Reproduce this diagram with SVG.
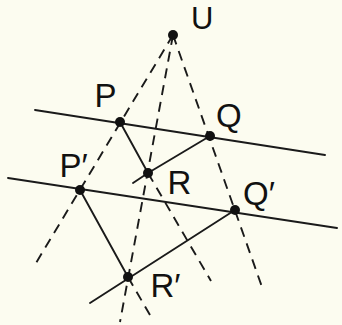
<svg xmlns="http://www.w3.org/2000/svg" width="342" height="325" viewBox="0 0 342 325">
<style>
.ln{stroke:#1a1a1a;stroke-width:1.9;fill:none;stroke-linecap:round}
.ds{stroke:#1a1a1a;stroke-width:1.9;fill:none;stroke-dasharray:10 7}
.dot{fill:#111}
.lb{font-family:"Liberation Sans","DejaVu Sans",Arial,sans-serif;font-size:33px;fill:#111}
</style>
<rect width="342" height="325" fill="#fcfcf0"/>
<g id="connectors">
<line class="ln" x1="35" y1="110" x2="325" y2="155"/>
<line class="ln" x1="8" y1="178" x2="337" y2="228"/>
<line class="ds" x1="173" y1="35" x2="33" y2="268"/>
<line class="ds" x1="173" y1="35" x2="120" y2="322"/>
<line class="ds" x1="173" y1="35" x2="262" y2="287"/>
<line class="ln" x1="120" y1="122" x2="148" y2="173"/>
<line class="ds" x1="148" y1="173" x2="211" y2="281"/>
<line class="ln" x1="210" y1="136" x2="148" y2="173"/>
<line class="ln" x1="148" y1="173" x2="133" y2="183"/>
<line class="ln" x1="80" y1="190" x2="128" y2="277"/>
<line class="ds" x1="128" y1="277" x2="150" y2="315"/>
<line class="ln" x1="235" y1="210" x2="90" y2="303"/>
</g>
<g id="U"><circle class="dot" cx="173" cy="35" r="5"/><text class="lb" x="191" y="28.5" style="font-size:31px">U</text></g>
<g id="P"><circle class="dot" cx="120" cy="122" r="5"/><text class="lb" x="94.5" y="107">P</text></g>
<g id="Q"><circle class="dot" cx="210" cy="136" r="5"/><text class="lb" x="216" y="127">Q</text></g>
<g id="R"><circle class="dot" cx="148" cy="173" r="5"/><text class="lb" x="167.5" y="194">R</text></g>
<g id="P2"><circle class="dot" cx="80" cy="190" r="5"/><text class="lb" x="59.5" y="177">P′</text></g>
<g id="Q2"><circle class="dot" cx="235" cy="210" r="5"/><text class="lb" x="243" y="205">Q′</text></g>
<g id="R2"><circle class="dot" cx="128" cy="277" r="5"/><text class="lb" x="150.5" y="297">R′</text></g>
</svg>
